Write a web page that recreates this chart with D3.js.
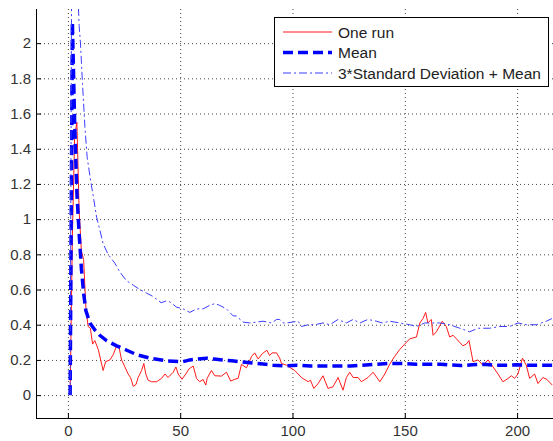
<!DOCTYPE html>
<html>
<head>
  <meta charset="utf-8">
  <title>One run / Mean / 3*Standard Deviation + Mean</title>
  <style>
    body { margin: 0; background: #fff; }
    svg { display: block; font-family: "Liberation Sans", Arial, sans-serif; }
    .grid line { stroke: #444; stroke-dasharray: 1,3; }
    .grid .domain { display: none; }
    .axis text { font-size: 15px; fill: #333; }
    .axis line, .axis path { stroke: #000; }
  </style>
  <script src="https://cdn.jsdelivr.net/npm/d3@7"></script>
</head>
<body>
<script>
  // x ticks / y ticks
  var xTicks = [0, 50, 100, 150, 200];
  var xTickLabels = ['0', '50', '100', '150', '200'];
  var yTicks = [0, 0.2, 0.4, 0.6, 0.8, 1, 1.2, 1.4, 1.6, 1.8, 2];
  var yTickLabels = ['0', '0.2', '0.4', '0.6', '0.8', '1', '1.2', '1.4', '1.6', '1.8', '2'];

  var seriesNames = ['One run', 'Mean', '3*Standard Deviation + Mean'];

  // One run
  var runX = [1, 2, 3, 4, 5, 6, 7, 8, 9, 10, 11, 12, 13.5, 15.7, 16.8, 18.7, 20.2, 21.7, 22.8, 23.9,
    25.4, 26.8, 27.9, 29.1, 30.3, 31.3, 32.8, 33.8, 34.7, 35.7, 37.2, 39.5, 41.7, 43.2, 44.6, 46.9,
    48.1, 49.1, 50.8, 52.5, 54, 55.8, 57.3, 58.7, 60.2, 61.4, 62, 63.9, 65.4, 68.4, 70.6, 72.5, 74.3,
    75.8, 77.3, 79.5, 81.8, 83.2, 84.7, 86.5, 88.6, 89.8, 90.9, 92.9, 94.3, 95.1, 97.3, 98.5, 101,
    104, 107, 108, 109.5, 111.4, 113.6, 115.8, 118, 120.3, 122.5, 124, 125.5, 127, 129.2, 130.7,
    133.6, 135.9, 138.9, 141.1, 143.3, 145.5, 147.8, 150, 152.2, 155.2, 156.7, 158.1, 159.3, 160.3,
    161.8, 162.6, 164.1, 166.7, 168.5, 170, 171.5, 173, 175.9, 177.4, 178.6, 180.4, 182.6, 184.8,
    187.1, 189.3, 191.5, 193.7, 196, 197.5, 198.9, 200.4, 202.4, 204.1, 205.6, 207.8, 209.3, 211.5,
    213.3, 215.7];
  var runY = [0, 0.9, 1.47, 1.55, 1.05, 0.82, 0.77, 0.5, 0.39, 0.38, 0.29, 0.31, 0.26, 0.14, 0.19, 0.2, 0.23, 0.28, 0.27, 0.2,
    0.16, 0.12, 0.1, 0.05, 0.06, 0.1, 0.14, 0.18, 0.12, 0.085, 0.076, 0.076, 0.095, 0.12, 0.1, 0.13,
    0.16, 0.12, 0.09, 0.12, 0.15, 0.165, 0.094, 0.076, 0.089, 0.057, 0.095, 0.14, 0.11, 0.108, 0.13, 0.08, 0.09,
    0.095, 0.175, 0.155, 0.22, 0.24, 0.205, 0.235, 0.255, 0.225, 0.24, 0.24, 0.21, 0.18, 0.17, 0.16, 0.14,
    0.1, 0.076, 0.085, 0.038, 0.066, 0.11, 0.038, 0.047, 0.1, 0.028, 0.1, 0.13, 0.1, 0.1, 0.076,
    0.1, 0.13, 0.076, 0.12, 0.176, 0.22, 0.26, 0.29, 0.32, 0.33, 0.41, 0.435, 0.47, 0.41,
    0.43, 0.34, 0.36, 0.42, 0.39, 0.33, 0.34, 0.32, 0.28, 0.29, 0.31, 0.19, 0.2, 0.17,
    0.2, 0.16, 0.12, 0.076, 0.095, 0.11, 0.095, 0.12, 0.21, 0.17, 0.095, 0.12, 0.066, 0.1,
    0.089, 0.057];

  // Mean
  var meanX = [1, 2, 3, 4, 5, 6, 7, 8, 9.8, 12, 14.2, 17.2, 21.7, 26.2, 30.6, 36.5, 44, 51.3, 54.3, 58,
    61.7, 65, 69, 73, 76.5, 80, 84, 88, 91.4, 97.3, 102, 108, 115, 120, 126, 131, 137, 143, 150, 155,
    160, 166, 170, 175, 180, 185, 190, 195, 200, 205, 210, 216];
  var meanY = [0, 2.12, 1.55, 1.15, 0.92, 0.72, 0.58, 0.48, 0.41, 0.37, 0.34, 0.31, 0.28, 0.255, 0.23, 0.21, 0.195, 0.19, 0.2, 0.205,
    0.21, 0.205, 0.2, 0.195, 0.19, 0.185, 0.18, 0.175, 0.17, 0.166, 0.17, 0.165, 0.165, 0.165, 0.165, 0.17, 0.175, 0.18, 0.18, 0.175,
    0.175, 0.176, 0.172, 0.168, 0.172, 0.175, 0.17, 0.17, 0.172, 0.17, 0.17, 0.17];

  // 3*Standard Deviation + Mean
  var sdX = [1, 2, 3, 4, 5, 5.6, 6.5, 7.6, 8.6, 10.1, 11.3, 12.8, 14.2, 15.7, 17.9, 20.9, 23.1, 26.1, 29.1, 32,
    35, 38, 41.5, 43.9, 45.4, 48.4, 51.3, 54.3, 57.3, 60.2, 63.2, 65.4, 67.6, 70.6, 72.1, 73.6, 75, 78,
    81, 84, 86.9, 90.7, 92.9, 94.3, 95.8, 97.3, 100, 102.5, 104, 107, 110, 113.6, 116.6, 120.3, 122,
    124, 127, 130, 133.6, 137.4, 140, 143.3, 147.8, 152.2, 155.2, 158.9, 161, 165.6, 170, 174.5,
    178.9, 182.6, 187.8, 192.3, 196.7, 200.4, 204.1, 208.6, 213, 215.5];
  var sdY = [0, 3.6, 2.9, 2.45, 2.1, 2.0, 1.77, 1.52, 1.35, 1.22, 1.13, 1.01, 0.94, 0.86, 0.8, 0.75, 0.7, 0.65, 0.625, 0.6,
    0.58, 0.56, 0.525, 0.535, 0.53, 0.5, 0.49, 0.47, 0.49, 0.49, 0.51, 0.52, 0.51, 0.49, 0.47, 0.45, 0.45, 0.415,
    0.41, 0.415, 0.42, 0.41, 0.43, 0.43, 0.41, 0.41, 0.415, 0.42, 0.39, 0.4, 0.4, 0.41, 0.4, 0.43, 0.42,
    0.41, 0.43, 0.41, 0.43, 0.42, 0.41, 0.42, 0.41, 0.4, 0.39, 0.41, 0.41, 0.41, 0.4, 0.38,
    0.36, 0.38, 0.38, 0.39, 0.39, 0.41, 0.4, 0.4, 0.42, 0.435];

  var W = 553, H = 441;
  var pLeft = 36, pTop = 9, pRight = 553, pBottom = 418;

  var x = d3.scaleLinear().domain([-14.2, 216]).range([pLeft, pRight]);
  var y = d3.scaleLinear().domain([-0.13, 2.194]).range([pBottom, pTop]);

  var svg = d3.select('body').append('svg').attr('width', W).attr('height', H);

  svg.append('clipPath').attr('id', 'plot')
    .append('rect').attr('x', pLeft).attr('y', pTop)
    .attr('width', pRight - pLeft).attr('height', pBottom - pTop);

  // grid
  svg.append('g').attr('class', 'grid')
    .attr('transform', 'translate(' + pLeft + ',0)')
    .call(d3.axisLeft(y).tickValues(yTicks).tickSize(-(pRight - pLeft)).tickFormat(''));
  svg.append('g').attr('class', 'grid')
    .attr('transform', 'translate(0,' + pBottom + ')')
    .call(d3.axisBottom(x).tickValues(xTicks).tickSize(-(pBottom - pTop)).tickFormat(''));

  // lines
  function toPts(xs, ys) { return xs.map((v, i) => [v, ys[i]]); }
  var line = d3.line().x(d => x(d[0])).y(d => y(d[1]));
  var plot = svg.append('g').attr('clip-path', 'url(#plot)');

  plot.append('path').attr('d', line(toPts(runX, runY)))
    .attr('fill', 'none').attr('stroke', '#ff1a1a').attr('stroke-width', 1)
    .attr('stroke-linejoin', 'round');
  plot.append('path').attr('d', line(toPts(meanX, meanY)))
    .attr('fill', 'none').attr('stroke', '#0000ff').attr('stroke-width', 3.5)
    .attr('stroke-dasharray', '10,5');
  plot.append('path').attr('d', line(toPts(sdX, sdY)))
    .attr('fill', 'none').attr('stroke', '#3c3cff').attr('stroke-width', 1)
    .attr('stroke-dasharray', '8,3,2,3');

  // axes
  var yAxis = svg.append('g').attr('class', 'axis')
    .attr('transform', 'translate(' + pLeft + ',0)')
    .call(d3.axisLeft(y).tickValues(yTicks).tickSizeInner(-5).tickSizeOuter(0)
      .tickPadding(5).tickFormat((d, i) => yTickLabels[i]));
  yAxis.select('.domain').attr('d', 'M0.5,' + pTop + 'V' + pBottom);

  var xAxis = svg.append('g').attr('class', 'axis')
    .attr('transform', 'translate(0,' + pBottom + ')')
    .call(d3.axisBottom(x).tickValues(xTicks).tickSizeInner(-5).tickSizeOuter(0)
      .tickPadding(7).tickFormat((d, i) => xTickLabels[i]));
  xAxis.select('.domain').attr('d', 'M' + pLeft + ',0.5H' + pRight);

  // legend
  var lg = svg.append('g').attr('transform', 'translate(274,17)');
  lg.append('rect').attr('x', 0.5).attr('y', 0.5).attr('width', 274).attr('height', 69)
    .attr('fill', '#fff').attr('stroke', '#000');
  var legendStyles = [
    { color: '#ff1a1a', width: 1, dash: null },
    { color: '#0000ff', width: 3.5, dash: '10,5' },
    { color: '#3c3cff', width: 1, dash: '8,3,2,3' }
  ];
  seriesNames.forEach((name, i) => {
    var yy = 15 + i * 20.5;
    var s = legendStyles[i];
    lg.append('line').attr('x1', 9).attr('x2', 58).attr('y1', yy).attr('y2', yy)
      .attr('stroke', s.color).attr('stroke-width', s.width)
      .attr('stroke-dasharray', s.dash);
    lg.append('text').attr('x', 64).attr('y', yy).attr('dy', '0.36em')
      .attr('font-size', 15.5).attr('fill', '#222').text(name);
  });
</script>
</body>
</html>
